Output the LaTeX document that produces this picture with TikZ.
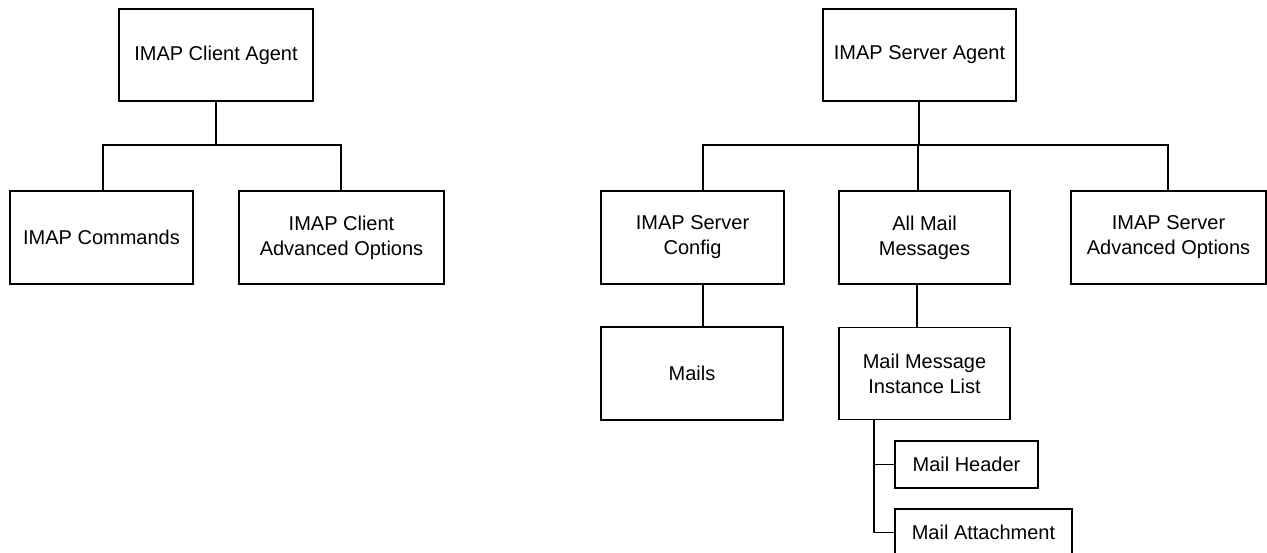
\documentclass[tikz,border=0pt]{standalone}
\usepackage{fontspec}
\setmainfont{Liberation Sans}
\begin{document}
\begin{tikzpicture}[x=1pt,y=-1pt,
  box/.style={draw=black, line width=1.8pt, rectangle, inner sep=0pt, align=center,
    font=\fontsize{20}{25}\selectfont, text=black},
  link/.style={draw=black, line width=1.8pt}]
\useasboundingbox (0,0) rectangle (1267,552);
\fill[white] (0,0) rectangle (1267,552);
\clip (0,0) rectangle (1267,552);
% client tree
\node[box, minimum width=194pt, minimum height=92pt] (ca) at (216,55) {IMAP Client Agent};
\node[box, minimum width=183pt, minimum height=93pt] (cmd) at (101.5,237.5) {IMAP Commands};
\node[box, minimum width=205pt, minimum height=93pt] (cadv) at (341.5,237.5) {IMAP Client\\Advanced Options};
% server tree
\node[box, minimum width=193pt, minimum height=92pt] (sa) at (919.5,55) {IMAP Server Agent};
\node[box, minimum width=183pt, minimum height=93pt] (scfg) at (692.5,237.5) {IMAP Server\\Config};
\node[box, minimum width=171pt, minimum height=93pt] (amm) at (924.5,237.5) {All Mail\\Messages};
\node[box, minimum width=195pt, minimum height=93pt] (sadv) at (1168.5,237.5) {IMAP Server\\Advanced Options};
\node[box, minimum width=182pt, minimum height=93pt] (mails) at (692,373.5) {Mails};
\node[box, minimum width=171pt, minimum height=92pt] (mmil) at (924.5,373.5) {Mail Message\\Instance List};
\node[box, minimum width=143pt, minimum height=47pt] (mh) at (966.5,464.5) {Mail Header};
\node[box, minimum width=177pt, minimum height=47pt] (mat) at (983.5,532.5) {Mail Attachment};
% connector coordinates
\coordinate (cbar) at (216,145);
\coordinate (xc1) at (103,145);
\coordinate (xc2) at (341,145);
\coordinate (sbar) at (919,145);
\coordinate (xcfg) at (703,145);
\coordinate (xamm) at (918,145);
\coordinate (xsadv) at (1168,145);
\coordinate (xmm) at (917,0);
\coordinate (xt) at (874,0);
% client connectors
\draw[link] (cbar |- ca.south) -- (cbar);
\draw[link] (xc1 |- cmd.north) -- (xc1) -- (xc2) -- (xc2 |- cadv.north);
% server connectors
\draw[link] (sbar |- sa.south) -- (sbar);
\draw[link] (xcfg |- scfg.north) -- (xcfg) -- (xsadv) -- (xsadv |- sadv.north);
\draw[link] (xamm) -- (xamm |- amm.north);
\draw[link] (xcfg |- scfg.south) -- (xcfg |- mails.north);
\draw[link] (xmm |- amm.south) -- (xmm |- mmil.north);
\draw[link] (xt |- mmil.south) |- (mat.west);
\draw[link] (xt |- mh.west) -- (mh.west);
\end{tikzpicture}
\end{document}
